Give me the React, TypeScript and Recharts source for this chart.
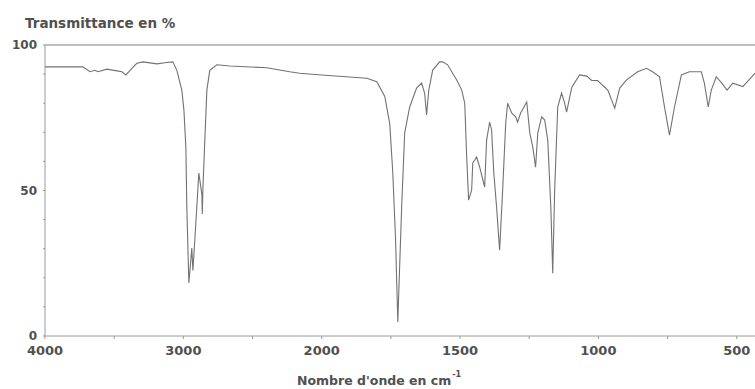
import React from "react";
import { LineChart, Line, XAxis, YAxis, ReferenceLine } from "recharts";

// IR spectrum, wavenumber in cm-1 (descending) and transmittance in %
const wavenumbers = [
  4000, 3726, 3675, 3639, 3617, 3552, 3480, 3444, 3415, 3372, 3336, 3292,
  3191, 3134, 3076, 3047, 3011, 2996, 2982, 2975, 2960, 2939, 2931, 2917,
  2888, 2866, 2863, 2859, 2845, 2830, 2809, 2758, 2664, 2397, 2231, 2159,
  2000, 1837, 1801, 1772, 1754, 1743, 1733, 1725, 1711, 1700, 1682, 1657,
  1639, 1628, 1621, 1613, 1599, 1574, 1563, 1545, 1512, 1494, 1483, 1476,
  1469, 1458, 1454, 1440, 1429, 1411, 1404, 1393, 1386, 1378, 1368, 1357,
  1346, 1335, 1328, 1313, 1299, 1292, 1281, 1259, 1248, 1237, 1227, 1219,
  1205, 1194, 1183, 1172, 1165, 1158, 1147, 1133, 1122, 1115, 1096, 1068,
  1042, 1024, 1003, 966, 941, 923, 898, 858, 826, 804, 779, 761, 743, 725,
  700, 671, 628, 617, 603, 592, 574, 554, 535, 514, 478, 445, 434,
];

const transmittance = [
  92.5, 92.5, 90.8, 91.3, 90.8, 91.7, 91.1, 90.8, 89.7, 92.0, 93.7, 94.2,
  93.5, 93.9, 94.2, 91.3, 84.5, 77.7, 65.1, 44.3, 18.2, 30.2, 22.5, 33.1,
  56.0, 48.6, 41.9, 50.2, 67.0, 84.5, 91.3, 93.2, 92.8, 92.2, 90.8, 90.3,
  89.7, 88.6, 87.4, 82.3, 72.9, 56.0, 33.1, 4.8, 44.4, 69.8, 78.7, 85.2,
  86.9, 83.5, 76.0, 84.5, 91.3, 94.2, 94.2, 93.2, 88.0, 84.5, 80.0, 61.5,
  46.7, 50.2, 59.5, 61.5, 58.0, 51.2, 67.3, 73.5, 70.8, 56.0, 44.4, 29.5,
  50.2, 73.1, 80.0, 76.6, 75.3, 73.5, 76.6, 80.4, 69.8, 64.9, 58.0, 69.8,
  75.3, 74.2, 67.3, 44.4, 21.6, 50.2, 78.7, 83.5, 80.0, 76.9, 85.5, 89.7,
  89.3, 87.8, 87.8, 84.5, 78.3, 85.2, 88.0, 90.8, 92.0, 90.8, 89.1, 78.7,
  69.0, 78.7, 89.7, 90.8, 90.8, 86.9, 78.7, 84.5, 89.1, 86.9, 84.5, 86.9,
  85.7, 89.1, 90.3,
];

const xLabelWavenumbers = [4000, 3000, 2000, 1500, 1000, 500];
const xMinorWavenumbers = [3500, 2500, 1750, 1250, 750];
const yTicks = [0, 10, 20, 30, 40, 50, 60, 70, 80, 90, 100];
const yLabels = [0, 50, 100];

// the spectrometer axis is compressed by 2 above 2000 cm-1
const toAxis = (w: number) => (w >= 2000 ? (4000 - w) / 2 : 1000 + (2000 - w));
const fromAxis = (u: number) => (u <= 1000 ? 4000 - 2 * u : 2000 - (u - 1000));

const data = wavenumbers.map((w, i) => ({ u: toAxis(w), t: transmittance[i] }));
const xTicks = [...xLabelWavenumbers, ...xMinorWavenumbers]
  .map(toAxis)
  .sort((a, b) => a - b);

const TEXT = "#505050";
const AXIS = "#9a9a9a";
const FONT = "'DejaVu Sans', Verdana, sans-serif";

export default function App() {
  return (
    <div
      style={{
        position: "absolute",
        left: 0,
        top: 0,
        width: 755,
        height: 389,
        background: "#fff",
        fontFamily: FONT,
      }}
    >
      <div
        style={{
          position: "absolute",
          left: 25,
          top: 17,
          fontSize: 13.5,
          lineHeight: 1,
          fontWeight: "bold",
          color: TEXT,
          whiteSpace: "nowrap",
        }}
      >
        Transmittance en %
      </div>
      <LineChart
        width={755}
        height={389}
        data={data}
        margin={{ top: 45, right: 0, bottom: 0, left: 0 }}
      >
        <XAxis
          type="number"
          dataKey="u"
          domain={[0, 2566]}
          allowDataOverflow
          ticks={xTicks}
          interval={0}
          height={53}
          tickSize={3}
          tickMargin={7}
          stroke={AXIS}
          tick={{ fill: TEXT, fontSize: 13, fontWeight: "bold", fontFamily: FONT }}
          tickFormatter={(u: number) => {
            const w = Math.round(fromAxis(u));
            return xLabelWavenumbers.includes(w) ? String(w) : "";
          }}
        />
        <YAxis
          type="number"
          domain={[0, 100]}
          ticks={yTicks}
          interval={0}
          width={45}
          tickSize={2}
          tickMargin={6}
          stroke={AXIS}
          tick={{ fill: TEXT, fontSize: 12, fontWeight: "bold", fontFamily: FONT }}
          tickFormatter={(v: number) => (yLabels.includes(v) ? String(v) : "")}
        />
        <ReferenceLine y={100} stroke="#a8a8a8" strokeWidth={1.5} />
        <Line
          type="linear"
          dataKey="t"
          stroke="#727272"
          strokeWidth={1.1}
          dot={false}
          isAnimationActive={false}
        />
      </LineChart>
      <div
        style={{
          position: "absolute",
          left: 297,
          top: 375,
          fontSize: 12.5,
          lineHeight: 1,
          fontWeight: "bold",
          color: TEXT,
          whiteSpace: "nowrap",
        }}
      >
        Nombre d'onde en cm
        <sup style={{ fontSize: 8, verticalAlign: "top", position: "relative", top: -4, marginLeft: 1 }}>-1</sup>
      </div>
    </div>
  );
}
